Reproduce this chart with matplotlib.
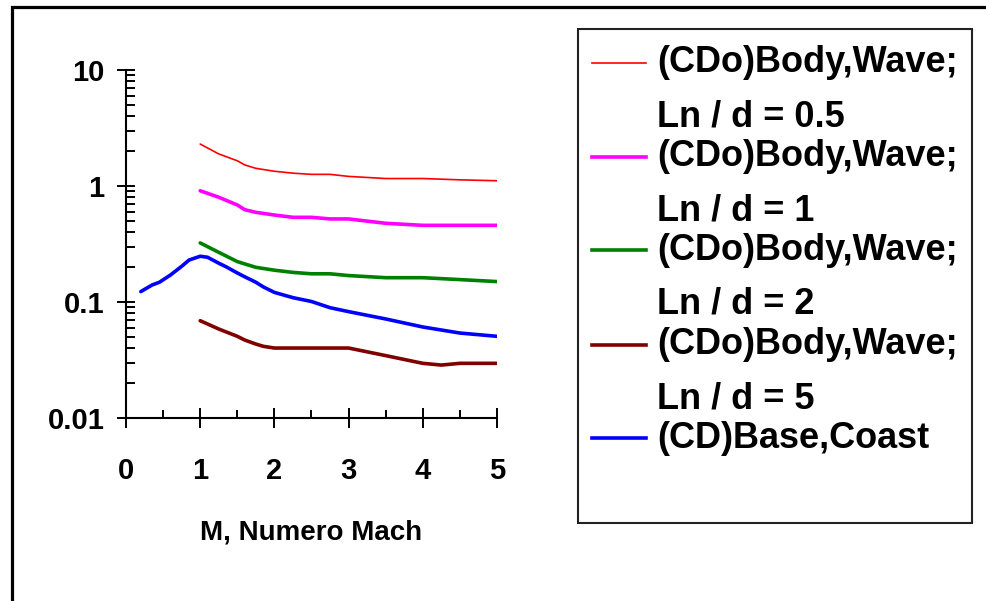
import matplotlib
matplotlib.use('Agg')
from matplotlib import pyplot as plt
from matplotlib.lines import Line2D
from matplotlib.patches import Rectangle
from matplotlib.ticker import FixedLocator, FixedFormatter, LogLocator, NullFormatter

plt.rcParams['font.family'] = ['Liberation Sans', 'DejaVu Sans']
plt.rcParams['font.weight'] = 'bold'

# numero de Mach y coeficientes de arrastre
mach = [1.0, 1.25, 1.5, 1.6, 1.75, 2.0, 2.25, 2.5, 2.75, 3.0, 3.5, 4.0, 4.5, 5.0]
cd_wave_05 = [2.30, 1.89, 1.65, 1.52, 1.42, 1.34, 1.29, 1.26, 1.26, 1.21, 1.16, 1.16, 1.13, 1.11]
cd_wave_1 = [0.91, 0.80, 0.686, 0.625, 0.593, 0.562, 0.537, 0.537, 0.52, 0.52, 0.477, 0.458, 0.458, 0.458]
cd_wave_2 = [0.323, 0.268, 0.223, 0.213, 0.199, 0.188, 0.180, 0.175, 0.175, 0.169, 0.162, 0.162, 0.156, 0.150]

mach_5 = [1.0, 1.25, 1.5, 1.6, 1.75, 1.85, 2.0, 2.5, 3.0, 3.5, 4.0, 4.25, 4.5, 5.0]
cd_wave_5 = [0.069, 0.0585, 0.0506, 0.047, 0.0434, 0.0415, 0.0401, 0.0401, 0.0401, 0.0345,
             0.0296, 0.0286, 0.0296, 0.0296]

mach_base = [0.2, 0.35, 0.45, 0.6, 0.75, 0.85, 1.0, 1.1, 1.25, 1.35, 1.5, 1.6, 1.75, 1.85,
             2.0, 2.25, 2.5, 2.75, 3.0, 3.5, 4.0, 4.5, 5.0]
cd_base = [0.123, 0.140, 0.148, 0.171, 0.203, 0.230, 0.248, 0.243, 0.216, 0.201, 0.178, 0.165,
           0.148, 0.135, 0.121, 0.109, 0.101, 0.0893, 0.0826, 0.0714, 0.0609, 0.054, 0.0506]

labels = ['(CDo)Body,Wave;\nLn / d = 0.5', '(CDo)Body,Wave;\nLn / d = 1',
          '(CDo)Body,Wave;\nLn / d = 2', '(CDo)Body,Wave;\nLn / d = 5', '(CD)Base,Coast']
x_ticks = [0, 1, 2, 3, 4, 5]
y_ticks = [10, 1, 0.1, 0.01]
y_tick_labels = ['10', '1', '0.1', '0.01']

fig = plt.figure(figsize=(9.87, 6.01), dpi=100)
ax = fig.add_axes([126 / 987, 1 - 418 / 601, 371 / 987, 348 / 601])

series = [
    (mach, cd_wave_05, '#ff0000', 1.2),
    (mach, cd_wave_1, '#ff00ff', 2.6),
    (mach, cd_wave_2, '#008000', 2.6),
    (mach_5, cd_wave_5, '#800000', 2.6),
    (mach_base, cd_base, '#0000ff', 2.6),
]
lines = []
for xs, ys, c, lw in series:
    ln, = ax.plot(xs, ys, color=c, lw=lw, solid_capstyle='round')
    lines.append(ln)

ax.set_yscale('log')
ax.set_xlim(0, 5)
ax.set_ylim(0.01, 10)

# ejes
ax.spines['right'].set_visible(False)
ax.spines['top'].set_visible(False)
ax.spines['left'].set_linewidth(1.5)
ax.spines['bottom'].set_linewidth(1.5)

ax.yaxis.set_major_locator(FixedLocator(y_ticks))
ax.yaxis.set_major_formatter(FixedFormatter(y_tick_labels))
ax.yaxis.set_minor_locator(LogLocator(base=10, subs=range(2, 10)))
ax.yaxis.set_minor_formatter(NullFormatter())
ax.set_xticks(x_ticks)
ax.set_xticks([0.5, 1.5, 2.5, 3.5, 4.5], minor=True)

ax.tick_params(axis='y', which='major', direction='inout', length=13, width=1.4, pad=9, labelsize=21)
ax.tick_params(axis='y', which='minor', direction='in', length=6.5, width=1.4)
ax.tick_params(axis='x', which='major', direction='inout', length=14, width=1.4, pad=21, labelsize=21)
ax.tick_params(axis='x', which='minor', direction='in', length=6, width=1.4)
for t in ax.get_xticklabels() + ax.get_yticklabels():
    t.set_fontweight('bold')

ax.set_xlabel('M, Numero Mach', fontsize=20, fontweight='bold')
ax.xaxis.set_label_coords(0.4987, (418 - 532) / 348)
ax.xaxis.label.set_va('center')

# marco exterior
fig.add_artist(Rectangle((12 / 987, -0.2), 1.2, 1.2 - 7 / 601, transform=fig.transFigure,
                         fill=False, lw=2.3, ec='black'))

# leyenda
fig.add_artist(Rectangle((578 / 987, 1 - 523 / 601), 394 / 987, 494 / 601,
                         transform=fig.transFigure, fill=False, lw=1.5, ec='#222222'))
handle_y = [63, 157, 250, 345, 438]
for ln, lab, yy in zip(lines, labels, handle_y):
    yf = 1 - yy / 601
    fig.add_artist(Line2D([592 / 987, 646 / 987], [yf, yf], transform=fig.transFigure,
                          color=ln.get_color(), lw=ln.get_linewidth()))
    parts = lab.split('\n')
    fig.text(657 / 987, yf, parts[0], fontsize=26, fontweight='bold', va='center', ha='left')
    if len(parts) > 1:
        fig.text(657 / 987, 1 - (yy + 54) / 601, parts[1], fontsize=26, fontweight='bold',
                 va='center', ha='left')

fig.savefig('out.png', dpi=100)
